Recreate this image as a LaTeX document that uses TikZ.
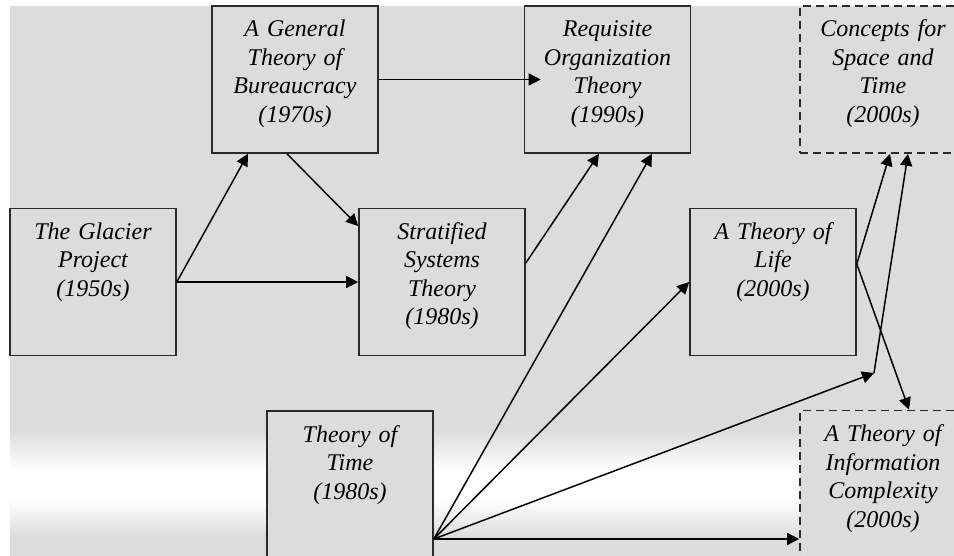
\documentclass[tikz,border=0pt]{standalone}
\usepackage{fontspec}
\setmainfont{Liberation Serif}
\usetikzlibrary{arrows.meta}
\definecolor{bggray}{HTML}{DCDCDC}
\definecolor{boxline}{HTML}{2A2A2A}
\tikzset{
  box/.style={rectangle,draw=boxline,line width=1.6pt,fill=bggray,inner sep=0pt,
    minimum width=166pt,minimum height=147pt,text width=160pt,align=center,
    text height=31pt,text depth=116pt,font=\fontsize{24}{28.5}\selectfont\itshape},
  later/.style={box,dash pattern=on 8pt off 5pt},
  conn/.style={-{Triangle[length=12pt,width=12pt]},line width=1.5pt,black},
}

\begin{document}
\begin{tikzpicture}[x=1pt,y=1pt]
\useasboundingbox (0,0) rectangle (954,-556);
\clip (0,0) rectangle (954,-556);
% background with the light band near the bottom
\fill[bggray] (10,-6) rectangle (954,-556);
\shade[top color=bggray,bottom color=white] (10,-430) rectangle (954,-471);
\fill[white] (10,-470) rectangle (954,-501);
\shade[top color=white,bottom color=bggray] (10,-500) rectangle (954,-536);
%
\node (glacier) [box] at (93,-282) {The Glacier\\Project\\(1950s)};
\node (bur) [box] at (295,-79.5) {A General\\Theory of\\Bureaucracy\\(1970s)};
\node (strat) [box] at (442,-282) {Stratified\\Systems\\Theory\\(1980s)};
\node (req) [box] at (607.5,-79.5) {Requisite\\Organization\\Theory\\(1990s)};
\node (con) [later] at (883,-79.5) {Concepts for\\Space and\\Time\\(2000s)};
\node (life) [box] at (773,-282) {A Theory of\\Life\\(2000s)};
\node (time) [box] at (350,-484.5) {Theory of\\Time\\(1980s)};
\node (info) [later] at (883,-484) {A Theory of\\Information\\Complexity\\(2000s)};
%
\coordinate (sout) at ([yshift=19pt]strat.east);
\coordinate (lout) at ([yshift=18pt]life.east);
\coordinate (tout) at ([yshift=-54.5pt]time.east);
\coordinate (kink) at (874,-373);
%
\path[conn] (glacier.east) edge ([xshift=-47pt]bur.south);
\path[conn] (glacier.east) edge (strat.west);
\path[conn] ([xshift=-8pt]bur.south) edge ([yshift=56pt]strat.west);
\path[conn] (bur.east) edge ([xshift=17pt]req.west);
\path[conn] (sout) edge ([xshift=-8.5pt]req.south);
\path[conn] (tout) edge ([xshift=44.5pt]req.south);
\path[conn] (tout) edge (life.west);
\path[conn] (tout) edge (kink);
\path[conn] (kink) edge ([xshift=25pt]con.south);
\path[conn] (tout) edge ([yshift=-55pt]info.west);
\path[conn] (lout) edge ([xshift=7pt]con.south);
\path[conn] (lout) edge ([xshift=26pt]info.north);
\end{tikzpicture}
\end{document}
